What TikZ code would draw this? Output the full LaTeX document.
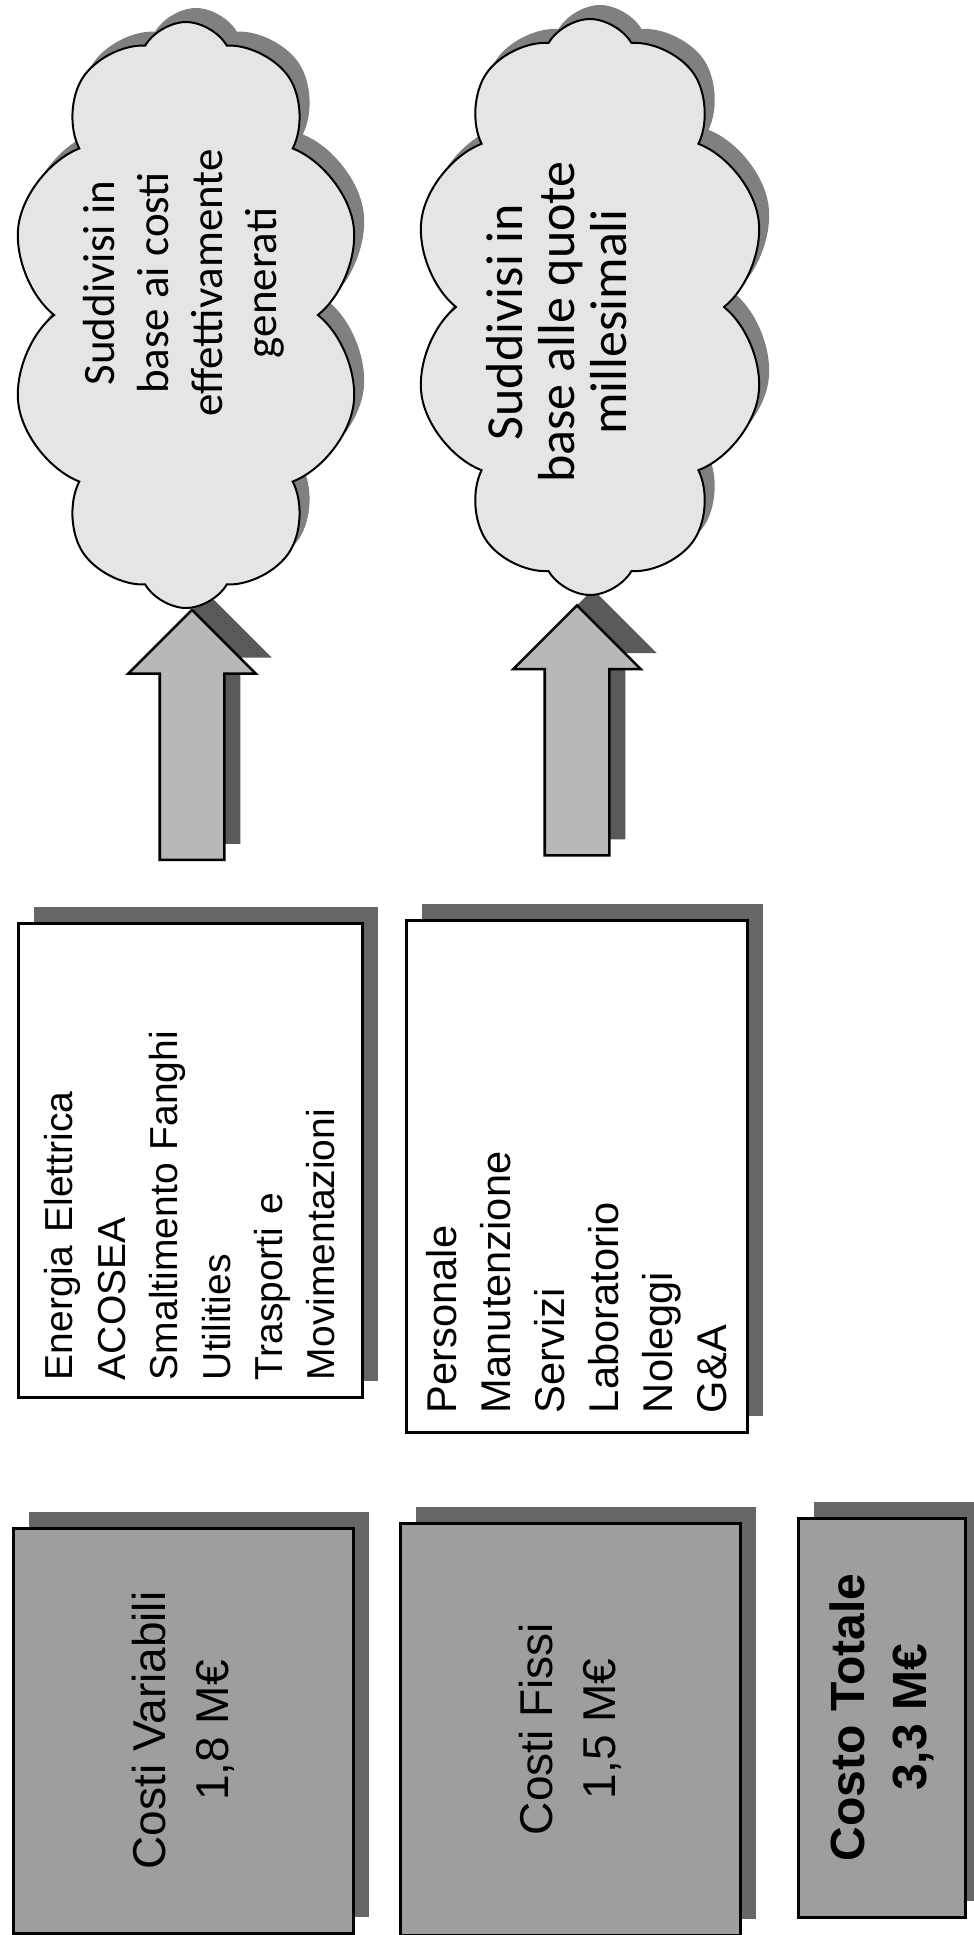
\documentclass[tikz,border=0pt]{standalone}
\usepackage{fontspec}
\setmainfont{Liberation Sans}
\newfontfamily\cloudfont{Carlito}
\usetikzlibrary{shapes.symbols,shapes.arrows,shadows}

\begin{document}
\begin{tikzpicture}[x=0.5pt,y=-0.5pt,
  ombra/.style={drop shadow={shadow xshift=8pt,shadow yshift=8pt,fill=black!60,opacity=1}},
  costo/.style={draw,line width=1.5pt,fill=black!38,rotate=90,align=center,inner sep=0pt,ombra},
  voci/.style={draw,line width=1.5pt,fill=white,rotate=90,align=left,inner ysep=0pt,ombra},
  freccia/.style={single arrow,draw,line width=1.3pt,fill=black!28,rotate=90,inner xsep=0pt,inner ysep=15.5pt,
    minimum height=125pt,single arrow head extend=15.75pt,single arrow tip angle=90,
    drop shadow={shadow xshift=8pt,shadow yshift=8pt,fill=black!65,opacity=1}},
  nuvola/.style={cloud,cloud puffs=10,cloud puff arc=120,cloud ignores aspect,draw,line width=1pt,fill=black!10,
    drop shadow={shadow xshift=5pt,shadow yshift=7pt,fill=black!50,opacity=1}}]
\useasboundingbox (0,0) rectangle (974,1935);

% colonna dei costi
\node (C1) [costo,minimum width=202.5pt,minimum height=170pt,font=\fontsize{23}{31.5}\selectfont] at (183,1730.5) {Costi Variabili\\1,8 M€};
\node (C2) [costo,minimum width=206pt,minimum height=170pt,font=\fontsize{23}{31.5}\selectfont] at (570,1729) {Costi Fissi\\1,5 M€};
\node (C3) [costo,minimum width=199.5pt,minimum height=83.5pt,font=\bfseries\fontsize{24}{31}\selectfont] at (881.5,1717.5) {Costo Totale\\3,3 M€};

% voci di costo
\node (L1) [voci,inner xsep=8.5pt,text width=220pt,minimum height=172pt,font=\fontsize{19.5}{26.2}\selectfont] at (190,1160) {Energia Elettrica\\ACOSEA\\Smaltimento Fanghi\\Utilities\\Trasporti e\\Movimentazioni};
\node (L2) [voci,inner xsep=9.5pt,text width=237pt,minimum height=170.5pt,font=\fontsize{20.8}{27}\selectfont] at (576.5,1176) {Personale\\Manutenzione\\Servizi\\Laboratorio\\Noleggi\\G\&A};

% frecce
\node (A1) [freccia] at (192,751) {};
\node (A2) [freccia] at (577,746.5) {};

% nuvole
\node (N1) [nuvola,minimum width=176pt,minimum height=293pt] at (186,315) {};
\node (N2) [nuvola,minimum width=177pt,minimum height=288pt] at (590,307) {};
\node (T1) [rotate=90,align=center,font=\cloudfont\fontsize{22.5}{27}\selectfont] at (184,283) {Suddivisi in\\base ai costi\\effettivamente\\generati};
\node (T2) [rotate=90,align=center,font=\cloudfont\fontsize{26}{26}\selectfont] at (557,322) {Suddivisi in\\base alle quote\\millesimali};

\end{tikzpicture}
\end{document}
